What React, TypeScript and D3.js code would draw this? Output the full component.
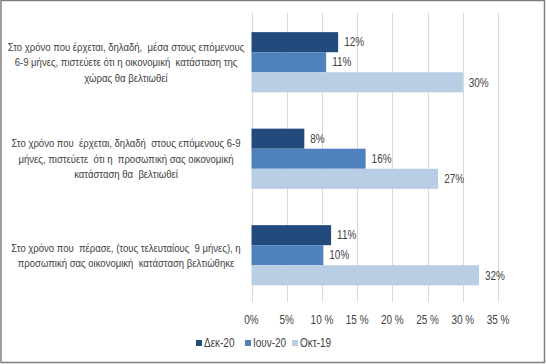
import React from "react";
import * as d3 from "d3";

const categories: string[][] = [
  ["Στο χρόνο που έρχεται, δηλαδή,  μέσα στους επόμενους", "6-9 μήνες, πιστεύετε ότι η οικονομική  κατάσταση της", "χώρας θα βελτιωθεί"],
  ["Στο χρόνο που  έρχεται, δηλαδή  στους επόμενους 6-9", "μήνες, πιστεύετε  ότι η  προσωπική σας οικονομική", "κατάσταση θα  βελτιωθεί"],
  ["Στο χρόνο που  πέρασε, (τους τελευταίους  9 μήνες), η", "προσωπική σας οικονομική  κατάσταση βελτιώθηκε"],
];
const seriesNames = ["Δεκ-20", "Ιουν-20", "Οκτ-19"];
const dec20 = [12.3, 7.5, 11.3];
const jun20 = [10.6, 16.2, 10.2];
const oct19 = [30, 26.5, 32.3];
const decLabels = ["12%", "8%", "11%"];
const junLabels = ["11%", "16%", "10%"];
const octLabels = ["30%", "27%", "32%"];
const xTicks = [0, 5, 10, 15, 20, 25, 30, 35];
const colors = ["#234a7d", "#4f81bd", "#b9cde5"];

const W = 546, H = 364;
const FONT = "'Liberation Sans', Arial, sans-serif";
const SX = 0.83;

function NText({ x, y, children, size = 11.5, anchor = "start" }: { x: number; y: number; children: React.ReactNode; size?: number; anchor?: string }) {
  return (
    <g transform={`translate(${x},${y}) scale(${SX},1)`}>
      <text x={0} y={0} dy="0.35em" fontSize={size} fill="#404040" textAnchor={anchor as any} style={{ whiteSpace: "pre" }}>
        {children}
      </text>
    </g>
  );
}

export default function App() {
  const x = d3.scaleLinear().domain([0, 35]).range([251.5, 498]);
  const y0 = d3.scaleBand<number>().domain([0, 1, 2]).range([14, 303.5]).paddingInner(0.376).paddingOuter(0.188);
  const y1 = d3.scaleBand<number>().domain([0, 1, 2]).range([0, y0.bandwidth()]);
  const series = [dec20, jun20, oct19];
  const labels = [decLabels, junLabels, octLabels];
  const lineH = 15.5;
  return (
    <svg width={W} height={H} style={{ position: "fixed", left: 0, top: 0, background: "#fff" }} fontFamily={FONT}>
      <rect x={0} y={0} width={W} height={H} fill="#fff" />
      <rect x={1} y={0.5} width={543.5} height={362} fill="none" stroke="#7f7f7f" strokeWidth={1.5} />
      {xTicks.map((t) => (
        <line key={t} x1={Math.round(x(t)) + 0.5} x2={Math.round(x(t)) + 0.5} y1={13} y2={302} stroke="#d9d9d9" strokeWidth={1} />
      ))}
      {categories.map((_, ci) =>
        series.map((s, si) => {
          const yy = (y0(ci) as number) + (y1(si) as number);
          return (
            <g key={`${ci}-${si}`}>
              <rect x={x(0)} y={yy} width={x(s[ci]) - x(0)} height={y1.bandwidth()} fill={colors[si]} />
              <NText x={x(s[ci]) + 6} y={yy + y1.bandwidth() / 2} size={12}>
                {labels[si][ci]}
              </NText>
            </g>
          );
        })
      )}
      {categories.map((lines, ci) => {
        const cy = (y0(ci) as number) + y0.bandwidth() / 2;
        const start = cy - ((lines.length - 1) * lineH) / 2;
        return (
          <g key={ci}>
            {lines.map((l, li) => (
              <NText key={li} x={126} y={start + li * lineH} size={11.5} anchor="middle">
                {l}
              </NText>
            ))}
          </g>
        );
      })}
      {xTicks.map((t) => (
        <NText key={t} x={x(t)} y={320} size={12} anchor="middle">
          {t === 0 || t === 5 ? `${t}%` : `${t} %`}
        </NText>
      ))}
      {seriesNames.map((n, i) => {
        const lx = [196, 245, 292][i];
        return (
          <g key={n}>
            <rect x={lx} y={340} width={6} height={6} fill={colors[i]} />
            <NText x={lx + 8} y={343} size={12}>{n}</NText>
          </g>
        );
      })}
    </svg>
  );
}
